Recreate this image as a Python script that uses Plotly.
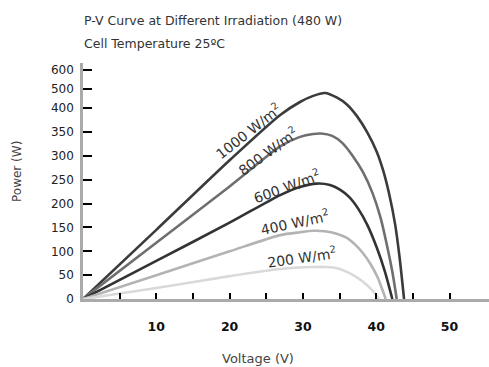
import numpy as np
import plotly.graph_objects as go

# ---- data ----
title_lines = ["P-V Curve at Different Irradiation (480 W)", "Cell Temperature 25ºC"]
y_ticks = [0, 50, 100, 150, 200, 250, 300, 350, 400, 500, 600]
x_ticks = [5, 10, 15, 20, 25, 30, 35, 40, 45, 50]
x_ticklabels = ["", "10", "", "20", "", "30", "", "40", "", "50"]

v_1000 = [0, 10, 20, 26.9, 29.6, 31.4, 33.0, 34.6, 36.0, 37.4, 38.8, 40.1, 41.0, 41.8, 42.6, 43.2, 43.8]
p_1000 = [0, 145, 291, 386, 433, 465, 480, 457, 420, 383, 349, 308, 267, 218, 155, 86, 0]

v_800 = [0, 10, 20, 26.9, 29.6, 31.4, 32.5, 34.0, 35.4, 36.8, 38.2, 39.5, 40.6, 41.5, 42.2, 42.8]
p_800 = [0, 118, 236, 320, 340, 346, 347, 342, 327, 300, 266, 222, 170, 110, 57, 0]

v_600 = [0, 10, 20, 26.9, 29.6, 31.9, 33.7, 35.0, 36.3, 37.6, 38.8, 40.1, 41.2, 42.2]
p_600 = [0, 80, 160, 218, 235, 242, 239, 230, 214, 188, 155, 107, 57, 0]

v_400 = [0, 10, 20, 26.9, 29.6, 31.4, 33.0, 34.6, 36.0, 37.2, 38.2, 39.2, 40.2, 41.3]
p_400 = [0, 50, 100, 134, 140, 143, 142, 137, 128, 113, 96, 74, 45, 0]

v_200 = [0, 10, 20, 26.9, 31.4, 33.2, 34.8, 36.0, 37.2, 38.2, 39.4, 40.4]
p_200 = [0, 23, 48, 63, 67, 67, 64, 57, 47, 36, 19, 0]

labels = ["1000 W/m<sup>2</sup>", "800 W/m<sup>2</sup>", "600 W/m<sup>2</sup>",
          "400 W/m<sup>2</sup>", "200 W/m<sup>2</sup>"]

# ---- styling ----
FONT = "DejaVu Sans"
colors = ["#3b3b3b", "#6f6f6f", "#333333", "#b3b3b3", "#d9d9d9"]

def to_axis(p):
    p = np.asarray(p, dtype=float)
    return np.where(p <= 400, p, 400 + (p - 400) * 0.4)

W, H = 489, 367
L, R, T, B = 83, 0, 63, 68
pw, ph = W - L - R, H - T - B

def px(x, y):
    return (x - L) / pw, (H - B - y) / ph

fig = go.Figure()
series = [(v_1000, p_1000), (v_800, p_800), (v_600, p_600), (v_400, p_400), (v_200, p_200)]
for (v, p), c in zip(series, colors):
    fig.add_trace(go.Scatter(x=v, y=to_axis(p), mode="lines",
                             line=dict(color=c, width=2.6, shape="spline", smoothing=0.7),
                             hoverinfo="skip", showlegend=False))

annotations = []
# title
for i, t in enumerate(title_lines):
    ax, ay = px(82, 20 + i * 23)
    annotations.append(dict(text=t, x=ax, y=ay, xref="paper", yref="paper",
                            xanchor="left", yanchor="middle", showarrow=False,
                            font=dict(family=FONT, size=12.5, color="#333333")))
# axis titles
ax, ay = px(17, 172)
annotations.append(dict(text="Power (W)", x=ax, y=ay, xref="paper", yref="paper",
                        xanchor="center", yanchor="middle",
                        textangle=-90, showarrow=False,
                        font=dict(family=FONT, size=12, color="#444444")))
ax, ay = px(258, 358)
annotations.append(dict(text="Voltage (V)", x=ax, y=ay, xref="paper", yref="paper",
                        xanchor="center", yanchor="middle",
                        showarrow=False, font=dict(family=FONT, size=13, color="#444444")))
# curve labels
lab_pos = [(248, 131, -38), (268, 151, -36), (287, 186, -20), (295, 222, -12), (302, 257, -8)]
for t, (x, y, a) in zip(labels, lab_pos):
    ax, ay = px(x, y)
    annotations.append(dict(text=t, x=ax, y=ay, xref="paper", yref="paper",
                            xanchor="center", yanchor="middle",
                            textangle=a, showarrow=False,
                            font=dict(family=FONT, size=14, color="#333333")))

fig.update_layout(
    width=W, height=H,
    margin=dict(l=L, r=R, t=T, b=B, pad=0),
    paper_bgcolor="white", plot_bgcolor="white",
    annotations=annotations,
    xaxis=dict(range=[0, pw / 7.33], showgrid=False, zeroline=False,
               showline=True, linecolor="#aaaaaa", linewidth=2.5,
               tickvals=x_ticks, ticktext=x_ticklabels,
               ticks="inside", ticklen=6, tickwidth=2, tickcolor="#000000",
               ticklabelstandoff=14,
               tickfont=dict(family=FONT, size=12.5, color="#111111", weight=600)),
    yaxis=dict(range=[0, ph / 0.4768], showgrid=False, zeroline=False,
               showline=True, linecolor="#aaaaaa", linewidth=2.5,
               tickvals=to_axis(y_ticks), ticktext=[str(t) for t in y_ticks],
               ticks="inside", ticklen=9, tickwidth=2, tickcolor="#000000",
               ticklabelstandoff=4,
               tickfont=dict(family=FONT, size=12, color="#222222")),
)

fig.write_html("out.html")
